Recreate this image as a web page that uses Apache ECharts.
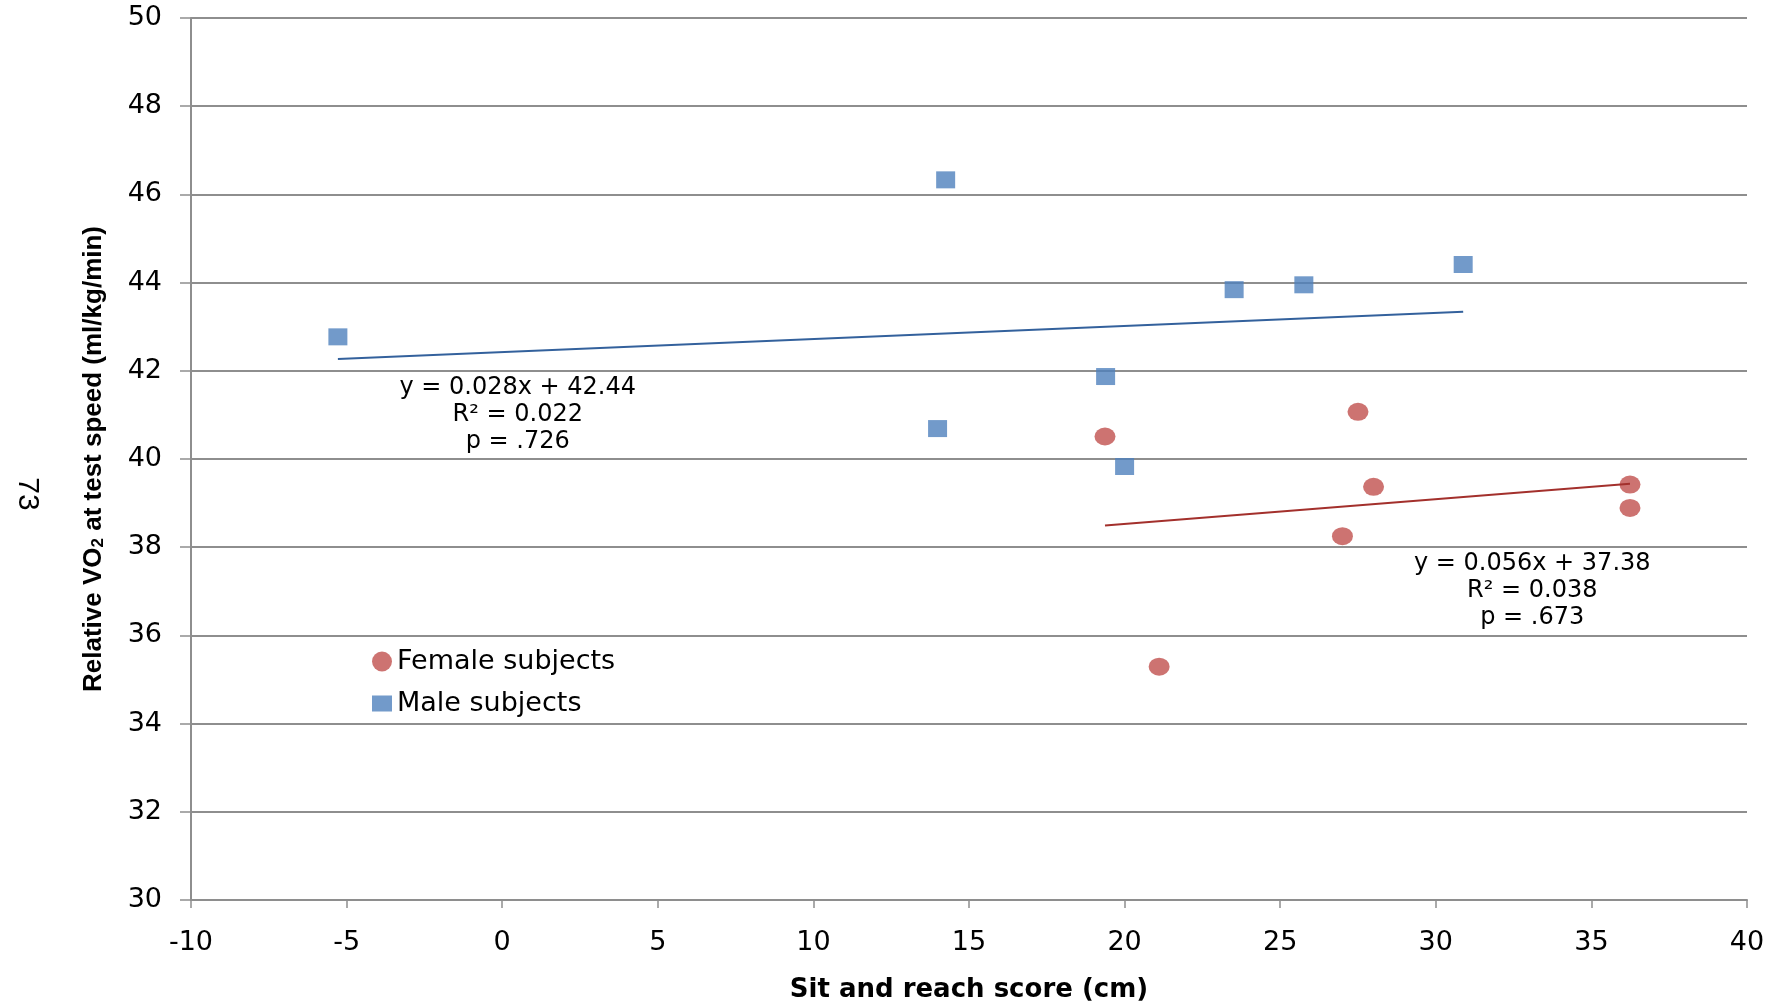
<!DOCTYPE html>
<html>
<head>
<meta charset="utf-8">
<script src="https://cdn.jsdelivr.net/npm/echarts@6/dist/echarts.min.js"></script>
<style>
  html, body { margin: 0; padding: 0; background: #ffffff; }
  #chart { width: 1782px; height: 1008px; }
</style>
</head>
<body>
<div id="chart"></div>
<script>
// ---- data ----
const femaleX = [19.37, 27.50, 28.00, 27.00, 36.24, 36.24, 21.11];
const femaleY = [40.51, 41.07, 39.37, 38.25, 39.42, 38.89, 35.29];
const maleX = [-5.28, 14.25, 23.52, 25.76, 30.88, 19.39, 13.99, 20.00];
const maleY = [42.77, 46.33, 43.84, 43.95, 44.41, 41.87, 40.69, 39.83];

// trendline end points as drawn
const maleTrendX = [-5.28, 30.88];
const maleTrendY = [42.27, 43.34];
const femaleTrendX = [19.37, 36.24];
const femaleTrendY = [38.49, 39.44];

// axis ticks
const xTicks = [-10, -5, 0, 5, 10, 15, 20, 25, 30, 35, 40];
const yTicks = [30, 32, 34, 36, 38, 40, 42, 44, 46, 48, 50];

// annotation texts and anchor positions (data units)
const maleEqText = ['y = 0.028x + 42.44', 'R\u00B2 = 0.022', 'p = .726'];
const maleEqAt = [0.5, 41.0];
const femaleEqText = ['y = 0.056x + 37.38', 'R\u00B2 = 0.038', 'p = .673'];
const femaleEqAt = [33.1, 37.01];

const seriesNames = ['Female subjects', 'Male subjects'];
const pageNumber = '73';

function pairs(xs, ys) { return xs.map((x, i) => [x, ys[i]]); }

const HFONT = 'DejaVu Sans';
const VFONT = 'Liberation Sans';
const GRID_COLOR = '#8e8e8e';

const chart = echarts.init(document.getElementById('chart'), null, { renderer: 'canvas' });

const eqLabel = (lines) => ({
  show: true,
  position: 'inside',
  formatter: lines.join('\n'),
  fontFamily: HFONT,
  fontSize: 24,
  lineHeight: 27,
  color: '#000000',
  align: 'center',
  verticalAlign: 'middle'
});

const option = {
  backgroundColor: '#ffffff',
  animation: false,
  grid: { left: 191, right: 35, top: 18, bottom: 108, containLabel: false },
  xAxis: {
    type: 'value',
    min: xTicks[0],
    max: xTicks[xTicks.length - 1],
    interval: xTicks[1] - xTicks[0],
    name: 'Sit and reach score (cm)',
    nameLocation: 'middle',
    nameGap: 77,
    nameTextStyle: { fontFamily: HFONT, fontWeight: 'bold', fontSize: 26, color: '#000000' },
    axisLine: { show: true, onZero: false, lineStyle: { color: GRID_COLOR, width: 2 } },
    axisTick: { show: true, inside: false, length: 8, lineStyle: { color: GRID_COLOR, width: 1.5 } },
    axisLabel: { margin: 29, fontFamily: HFONT, fontSize: 27, color: '#000000' },
    splitLine: { show: false }
  },
  yAxis: {
    type: 'value',
    min: yTicks[0],
    max: yTicks[yTicks.length - 1],
    interval: yTicks[1] - yTicks[0],
    name: '{b|Relative VO}{s|2}{b| at test speed (ml/kg/min)}',
    nameLocation: 'middle',
    nameGap: 84,
    nameTextStyle: {
      fontFamily: VFONT, fontWeight: 'bold', fontSize: 26, color: '#000000',
      rich: {
        b: { fontFamily: VFONT, fontWeight: 'bold', fontSize: 26, color: '#000000' },
        s: { fontFamily: VFONT, fontWeight: 'bold', fontSize: 17, color: '#000000', verticalAlign: 'bottom' }
      }
    },
    axisLine: { show: true, onZero: false, lineStyle: { color: GRID_COLOR, width: 2 } },
    axisTick: { show: true, inside: false, length: 11, lineStyle: { color: GRID_COLOR, width: 1.5 } },
    axisLabel: { margin: 29, fontFamily: HFONT, fontSize: 27, color: '#000000' },
    splitLine: { show: true, lineStyle: { color: GRID_COLOR, width: 2 } }
  },
  legend: {
    orient: 'vertical',
    left: 367,
    top: 643,
    itemWidth: 20,
    itemHeight: 20,
    itemGap: 15,
    symbolKeepAspect: true,
    textStyle: { fontFamily: HFONT, fontSize: 27, color: '#000000', lineHeight: 26 },
    data: [
      { name: seriesNames[0], icon: 'circle' },
      { name: seriesNames[1], icon: 'path://M0,2 L20,2 L20,18 L0,18 Z' }
    ]
  },
  graphic: [
    {
      type: 'text',
      x: 27,
      y: 494,
      rotation: -Math.PI / 2,
      style: {
        text: pageNumber,
        fontFamily: VFONT,
        fontSize: 30,
        fill: '#000000',
        align: 'center',
        verticalAlign: 'middle'
      }
    }
  ],
  series: [
    {
      name: seriesNames[0],
      type: 'scatter',
      symbol: 'circle',
      symbolSize: [21, 18],
      itemStyle: { color: '#C0504D' },
      z: 2,
      data: pairs(femaleX, femaleY)
    },
    {
      name: seriesNames[1],
      type: 'scatter',
      symbol: 'rect',
      symbolSize: [19, 17],
      itemStyle: { color: '#4F81BD' },
      z: 2,
      data: pairs(maleX, maleY)
    },
    {
      name: 'male trend',
      type: 'line',
      showSymbol: false,
      symbol: 'none',
      lineStyle: { color: '#33619c', width: 2 },
      z: 3,
      silent: true,
      data: pairs(maleTrendX, maleTrendY),
      markPoint: {
        symbol: 'circle',
        symbolSize: 0,
        silent: true,
        label: eqLabel(maleEqText),
        data: [{ coord: maleEqAt, value: 0 }]
      }
    },
    {
      name: 'female trend',
      type: 'line',
      showSymbol: false,
      symbol: 'none',
      lineStyle: { color: '#a3302c', width: 2 },
      z: 3,
      silent: true,
      data: pairs(femaleTrendX, femaleTrendY),
      markPoint: {
        symbol: 'circle',
        symbolSize: 0,
        silent: true,
        label: eqLabel(femaleEqText),
        data: [{ coord: femaleEqAt, value: 0 }]
      }
    }
  ]
};

chart.setOption(option);
</script>
</body>
</html>
